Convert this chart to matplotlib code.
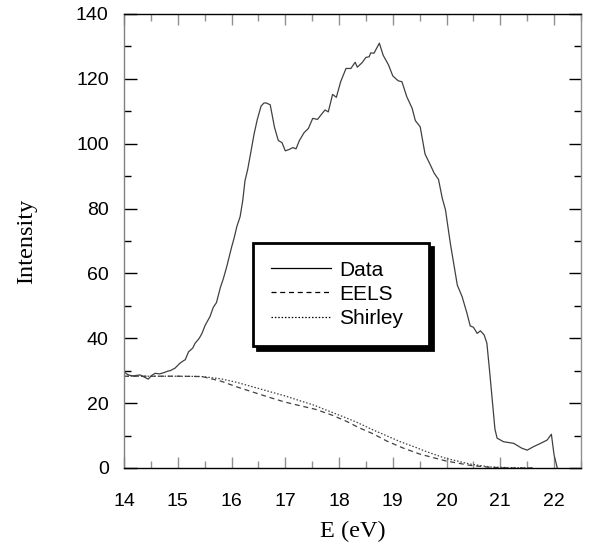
import numpy as np
import matplotlib
matplotlib.use('Agg')
import matplotlib.pyplot as plt
from matplotlib.ticker import MultipleLocator

# data
E_data = [14.0, 14.05, 14.1, 14.17, 14.3, 14.38, 14.45, 14.52, 14.58, 14.66, 14.76, 14.82,
          14.86, 14.95, 15.04, 15.1, 15.14, 15.2, 15.28, 15.32, 15.4, 15.45, 15.51, 15.6,
          15.66, 15.72, 15.79, 15.85, 15.91, 16.0, 16.05, 16.1, 16.16, 16.21, 16.25, 16.3,
          16.35, 16.42, 16.48, 16.55, 16.6, 16.64, 16.72, 16.8, 16.87, 16.94, 17.0, 17.07,
          17.14, 17.2, 17.26, 17.35, 17.43, 17.51, 17.6, 17.68, 17.74, 17.8, 17.88, 17.95,
          18.03, 18.13, 18.22, 18.3, 18.34, 18.43, 18.5, 18.56, 18.59, 18.65, 18.75, 18.82,
          18.92, 19.0, 19.1, 19.17, 19.26, 19.36, 19.42, 19.51, 19.6, 19.7, 19.77, 19.85,
          19.92, 19.98, 20.07, 20.2, 20.29, 20.38, 20.44, 20.5, 20.57, 20.63, 20.7, 20.75,
          20.8, 20.85, 20.9, 20.94, 21.06, 21.25, 21.4, 21.5, 21.62, 21.75, 21.87, 21.95,
          22.0, 22.06, 22.1]
I_data = [29.7, 29.0, 28.6, 28.4, 28.7, 28.0, 27.4, 28.6, 29.2, 29.0, 29.5, 29.9,
          30.0, 30.8, 32.3, 33.0, 33.4, 35.8, 37.0, 38.4, 40.0, 41.5, 44.0, 46.7,
          49.5, 51.0, 55.5, 58.5, 62.0, 68.0, 71.0, 74.5, 77.5, 82.6, 88.5, 92.0,
          96.5, 103.0, 107.5, 111.6, 112.5, 112.6, 112.0, 105.0, 101.0, 100.3, 97.8, 98.2,
          98.8, 98.4, 100.9, 103.4, 104.7, 107.8, 107.5, 109.2, 110.4, 109.8, 115.2, 114.3,
          119.1, 123.2, 123.2, 125.1, 123.6, 125.0, 126.6, 126.8, 128.0, 127.9, 131.0, 127.3,
          124.3, 120.9, 119.4, 119.1, 114.5, 110.9, 107.1, 105.2, 96.8, 93.4, 90.9, 89.0,
          83.2, 79.6, 69.3, 56.4, 52.8, 47.7, 43.8, 43.4, 41.5, 42.3, 41.0, 38.5,
          30.0, 21.0, 12.0, 9.2, 8.1, 7.6, 6.1, 5.5, 6.6, 7.6, 8.6, 10.4,
          4.0, 0.0, -3.0]

E_eels = [14.0, 14.5, 15.0, 15.45, 15.8, 16.1, 16.4, 16.7, 17.0, 17.25, 17.56, 17.87,
          18.15, 18.36, 18.64, 18.89, 19.2, 19.5, 19.98, 20.44, 20.82, 21.2, 21.6]
I_eels = [28.3, 28.3, 28.3, 28.2, 26.8, 25.0, 23.4, 21.8, 20.3, 19.3, 18.1, 16.3,
          14.3, 12.5, 10.5, 8.3, 6.1, 4.3, 2.2, 0.8, 0.2, 0.0, 0.0]

E_shir = [14.0, 14.5, 15.0, 15.45, 15.8, 16.1, 16.4, 16.72, 17.0, 17.28, 17.53, 17.8,
          18.08, 18.33, 18.61, 18.89, 19.14, 19.42, 19.6, 19.98, 20.44, 20.82, 21.2, 21.6]
I_shir = [28.3, 28.3, 28.3, 28.2, 27.5, 26.4, 25.0, 23.5, 22.2, 20.7, 19.4, 17.6,
          15.8, 14.1, 11.9, 9.9, 8.1, 6.4, 5.2, 3.0, 1.2, 0.3, 0.1, 0.0]

fig = plt.figure(figsize=(5.91, 5.48), dpi=100)
ax = fig.add_axes([0.2098, 0.146, 0.7732, 0.8285])

ax.plot(E_data, I_data, color='#404040', lw=0.9, label='Data')
ax.plot(E_eels, I_eels, color='#404040', lw=0.9, ls=(0, (4, 3)), label='EELS')
ax.plot(E_shir, I_shir, color='#404040', lw=0.9, ls=(0, (1.2, 1.5)), label='Shirley')

ax.set_xlim(14, 22.5)
ax.set_ylim(0, 140)
ax.xaxis.set_major_locator(MultipleLocator(1))
ax.xaxis.set_minor_locator(MultipleLocator(0.5))
ax.yaxis.set_major_locator(MultipleLocator(20))
ax.yaxis.set_minor_locator(MultipleLocator(10))

tick_font = 'Liberation Sans'
ax.tick_params(axis='both', which='both', direction='in', top=True, right=True)
ax.tick_params(axis='y', which='major', length=9, width=1, color='black', pad=11)
ax.tick_params(axis='y', which='minor', length=5, width=1, color='black')
ax.tick_params(axis='x', which='major', length=8, width=1, color='#909090', pad=18)
ax.tick_params(axis='x', which='minor', length=5, width=1, color='#909090')
for lab in ax.get_xticklabels() + ax.get_yticklabels():
    lab.set_fontfamily(tick_font)
    lab.set_fontsize(14)

ax.spines['left'].set_color('#808080')
ax.spines['right'].set_color('#909090')
ax.spines['top'].set_color('black')
ax.spines['bottom'].set_color('black')
for s in ax.spines.values():
    s.set_linewidth(1)

ax.set_xlabel('E (eV)', family='Liberation Serif', fontsize=17.5)
ax.set_ylabel('Intensity', family='Liberation Serif', fontsize=17.5)
ax.xaxis.set_label_coords(0.5, -0.117)
ax.yaxis.set_label_coords(-0.19, 0.5)

leg = ax.legend(loc='upper left', bbox_to_anchor=(0.282, 0.273, 0.386, 0.223),
                mode='expand', borderaxespad=0,
                prop={'family': tick_font, 'size': 15}, fancybox=False,
                handlelength=2.9, handletextpad=0.4, labelspacing=0.25,
                borderpad=0.85, framealpha=1,
                shadow={'color': 'black', 'alpha': 1, 'ox': 3, 'oy': -3})
leg.get_frame().set_edgecolor('black')
leg.get_frame().set_linewidth(2)
for line in leg.get_lines():
    line.set_color('black')

fig.savefig('out.png', dpi=100)
